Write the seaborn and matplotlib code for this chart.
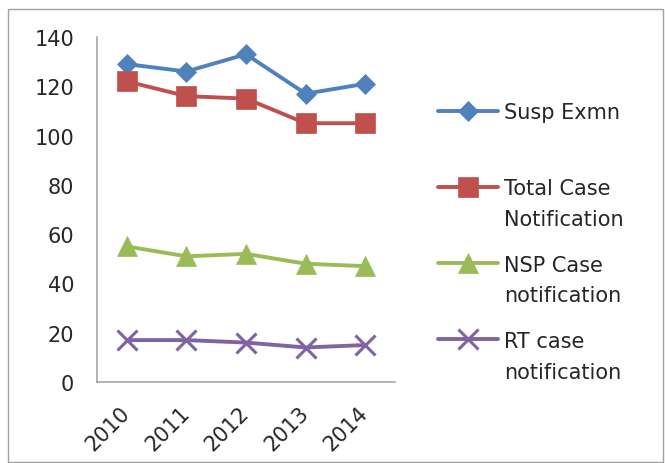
import matplotlib
matplotlib.use("Agg")
import matplotlib.pyplot as plt
import seaborn as sns
import pandas as pd
from matplotlib.patches import Rectangle
from matplotlib.ticker import FixedLocator, NullFormatter, FixedFormatter

years = ["2010", "2011", "2012", "2013", "2014"]
susp_exmn = [129, 126, 133, 117, 121]
total_case = [122, 116, 115, 105, 105]
nsp_case = [55, 51, 52, 48, 47]
rt_case = [17, 17, 16, 14, 15]

legend_first = ["Susp Exmn", "Total Case", "NSP Case", "RT case"]
legend_second = ["", "Notification", "notification", "notification"]
series_values = [susp_exmn, total_case, nsp_case, rt_case]
colors = ["#4F81BD", "#C0504D", "#9BBB59", "#8064A2"]
markers = ["D", "s", "^", "x"]
msizes = [10, 15, 14, 14]

sns.set_style("white")
plt.rcParams['font.family'] = ['DejaVu Sans']

W, H = 665, 464
fig = plt.figure(figsize=(W/100, H/100), dpi=100)
ax = fig.add_axes([97/W, 1-383/H, (395-97)/W, (383-38)/H])

handles = []
for name, vals, c, m, ms in zip(legend_first, series_values, colors, markers, msizes):
    df = pd.DataFrame({"year": years, "value": vals})
    sns.lineplot(data=df, x="year", y="value", ax=ax, color=c, linewidth=2.8,
                 marker=m, markersize=ms, markeredgecolor=c,
                 markeredgewidth=2.2 if m == "x" else 0.5, label=name)
    handles.append(ax.get_lines()[-1])

ax.set_xlim(-0.5, 4.5)
ax.set_ylim(0, 140)
ax.set_yticks(range(0, 141, 20))
ax.set_xlabel("")
ax.set_ylabel("")

fs = 15
ax.xaxis.set_major_locator(FixedLocator([-0.5, 0.5, 1.5, 2.5, 3.5, 4.5]))
ax.xaxis.set_major_formatter(NullFormatter())
ax.xaxis.set_minor_locator(FixedLocator([0, 1, 2, 3, 4]))
ax.xaxis.set_minor_formatter(FixedFormatter(years))
ax.tick_params(axis="x", which="minor", length=0, labelsize=fs, pad=20, labelcolor="#262626")
ax.tick_params(axis="x", which="major", length=5, width=1, color="#A6A6A6", direction="out")
ax.tick_params(axis="y", length=6.5, width=1, color="#A6A6A6", direction="out",
               labelsize=fs, pad=10, labelcolor="#262626")
for lab in ax.xaxis.get_minorticklabels():
    lab.set_rotation(45)
    lab.set_ha("right")
    lab.set_va("center")
    lab.set_rotation_mode("anchor")

for s in ["top", "right"]:
    ax.spines[s].set_visible(False)
for s in ["left", "bottom"]:
    ax.spines[s].set_color("#A6A6A6")
    ax.spines[s].set_linewidth(1.2)

if ax.get_legend() is not None:
    ax.get_legend().remove()

# legend with first lines; entries centred at 111, 186, 264, 341 px
leg = ax.legend(handles=handles, labels=legend_first, loc="upper left",
                bbox_to_anchor=(438/W, 1-103/H), bbox_transform=fig.transFigure,
                frameon=False, fontsize=fs, handlelength=2.9, handletextpad=0.25,
                borderpad=0, borderaxespad=0, labelspacing=2.7)
for t in leg.get_texts():
    t.set_color("#262626")

fig.canvas.draw()
inv = fig.transFigure.inverted()
for t, second in zip(leg.get_texts(), legend_second):
    if not second:
        continue
    bb = t.get_window_extent()
    x0, y0 = inv.transform((bb.x0, bb.y0 - 31))
    fig.text(x0, y0, second, fontsize=fs, color="#262626", ha="left", va="bottom")

fig.patches.append(Rectangle((8/W, 1/H), (663-8)/W, (453)/H,
                             transform=fig.transFigure, fill=False,
                             edgecolor="#A0A0A0", linewidth=1))

fig.savefig("out.png", dpi=100)
